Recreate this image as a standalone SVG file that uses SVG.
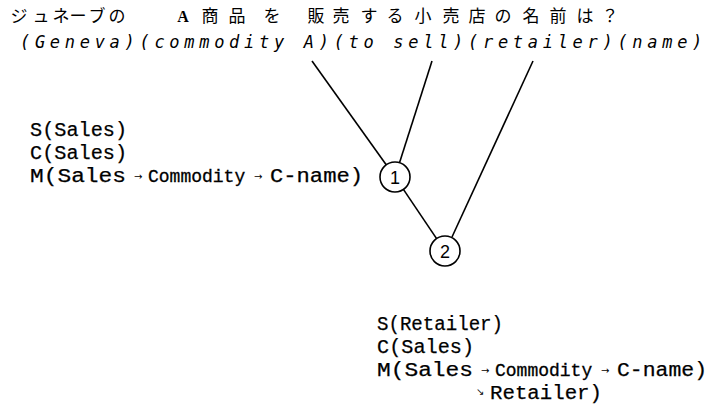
<svg xmlns="http://www.w3.org/2000/svg" width="711" height="406" viewBox="0 0 711 406">
<style>
.title{font-family:"Noto Sans CJK JP","Noto Sans CJK SC",sans-serif;font-size:17px;fill:#000;text-anchor:middle}
.roman{font-family:"DejaVu Sans Mono",monospace;font-style:italic;font-size:17px;letter-spacing:4.7px;fill:#000}
.lbl{font-family:"Liberation Mono",monospace;font-size:20px;fill:#000;stroke:#000;stroke-width:0.25}
.cm{font-size:18px;stroke-width:0.3}
.arr{font-family:"DejaVu Sans",sans-serif;font-size:10px;stroke:none}
.num{font-family:"Liberation Sans",sans-serif;font-size:18px;fill:#000;text-anchor:middle}
.node{fill:#fff;stroke:#000;stroke-width:1.6}
.edge{stroke:#000;stroke-width:1.6;fill:none}
</style>
<g id="title">
<text class="title" y="22" x="19 41 61 78 97 117">ジュネーブの</text>
<text y="22" x="183" style="font-family:'Liberation Serif',serif;font-size:16px;font-weight:bold;text-anchor:middle">A</text>
<text class="title" y="22" x="210 237 272">商品を</text>
<text class="title" y="22" x="316 341 369 395 423 451 477 503 531 558 585 610">販売する小売店の名前は？</text>
</g>
<g id="gloss">
<text class="roman" x="20" y="48">(Geneva)(commodity A)(to sell)(retailer)(name)</text>
</g>
<g id="connectors">
<line class="edge" x1="312" y1="61" x2="386.2" y2="164.8"/>
<line class="edge" x1="432" y1="61" x2="399.5" y2="162.7"/>
<line class="edge" x1="403.4" y1="189.4" x2="436.6" y2="238.6"/>
<line class="edge" x1="533" y1="61" x2="452" y2="237"/>
</g>
<g id="node1">
<circle class="node" cx="395" cy="177" r="15"/>
<text class="num" x="395" y="183.5">1</text>
</g>
<g id="node2">
<circle class="node" cx="445" cy="251" r="15"/>
<text class="num" x="445" y="257.5">2</text>
</g>
<g id="label1">
<text class="lbl" x="30" y="136" textLength="97" lengthAdjust="spacingAndGlyphs">S(Sales)</text>
<text class="lbl" x="30" y="159" textLength="97" lengthAdjust="spacingAndGlyphs">C(Sales)</text>
<text class="lbl" y="182"><tspan x="30" textLength="96" lengthAdjust="spacingAndGlyphs">M(Sales</tspan><tspan class="arr" x="134" dy="-2">→</tspan><tspan class="cm" x="148" dy="2">Commodity</tspan><tspan class="arr" x="254" dy="-2">→</tspan><tspan x="270" dy="2" textLength="93" lengthAdjust="spacingAndGlyphs">C-name)</tspan></text>
</g>
<g id="label2">
<text class="lbl" x="377" y="330" textLength="126" lengthAdjust="spacingAndGlyphs">S(Retailer)</text>
<text class="lbl" x="377" y="353" textLength="97" lengthAdjust="spacingAndGlyphs">C(Sales)</text>
<text class="lbl" y="376"><tspan x="377" textLength="96" lengthAdjust="spacingAndGlyphs">M(Sales</tspan><tspan class="arr" x="481" dy="-2">→</tspan><tspan class="cm" x="495" dy="2">Commodity</tspan><tspan class="arr" x="601" dy="-2">→</tspan><tspan x="617" dy="2" textLength="90" lengthAdjust="spacingAndGlyphs">C-name)</tspan></text>
<text class="lbl" y="399"><tspan class="arr" x="476" dy="-4">↘</tspan><tspan x="490" dy="4" textLength="112" lengthAdjust="spacingAndGlyphs">Retailer)</tspan></text>
</g>
</svg>
